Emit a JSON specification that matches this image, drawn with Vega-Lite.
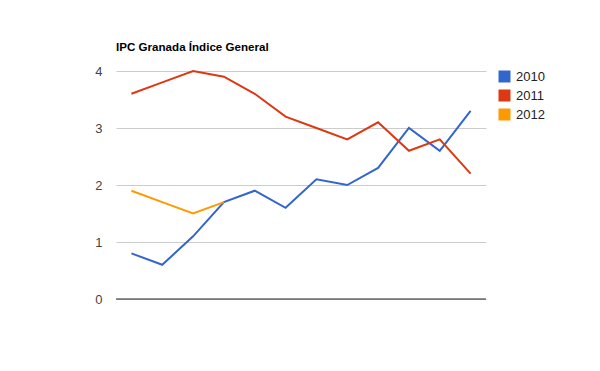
{
  "$schema": "https://vega.github.io/schema/vega-lite/v6.json",
  "width": 370,
  "height": 228,
  "autosize": "none",
  "padding": {"left": 116, "top": 71, "right": 114, "bottom": 72},
  "background": "white",
  "title": {
    "text": "IPC Granada Índice General",
    "anchor": "start",
    "frame": "group",
    "font": "Liberation Sans",
    "fontSize": 11.6,
    "fontWeight": "bold",
    "color": "#000000",
    "baseline": "alphabetic",
    "offset": 2
  },
  "config": {
    "view": {"stroke": null},
    "font": "Liberation Sans"
  },
  "data": {
    "values": [
      {"month": 1, "year": "2010", "value": 0.8},
      {"month": 2, "year": "2010", "value": 0.6},
      {"month": 3, "year": "2010", "value": 1.1},
      {"month": 4, "year": "2010", "value": 1.7},
      {"month": 5, "year": "2010", "value": 1.9},
      {"month": 6, "year": "2010", "value": 1.6},
      {"month": 7, "year": "2010", "value": 2.1},
      {"month": 8, "year": "2010", "value": 2.0},
      {"month": 9, "year": "2010", "value": 2.3},
      {"month": 10, "year": "2010", "value": 3.0},
      {"month": 11, "year": "2010", "value": 2.6},
      {"month": 12, "year": "2010", "value": 3.3},
      {"month": 1, "year": "2011", "value": 3.6},
      {"month": 2, "year": "2011", "value": 3.8},
      {"month": 3, "year": "2011", "value": 4.0},
      {"month": 4, "year": "2011", "value": 3.9},
      {"month": 5, "year": "2011", "value": 3.6},
      {"month": 6, "year": "2011", "value": 3.2},
      {"month": 7, "year": "2011", "value": 3.0},
      {"month": 8, "year": "2011", "value": 2.8},
      {"month": 9, "year": "2011", "value": 3.1},
      {"month": 10, "year": "2011", "value": 2.6},
      {"month": 11, "year": "2011", "value": 2.8},
      {"month": 12, "year": "2011", "value": 2.2},
      {"month": 1, "year": "2012", "value": 1.9},
      {"month": 2, "year": "2012", "value": 1.7},
      {"month": 3, "year": "2012", "value": 1.5},
      {"month": 4, "year": "2012", "value": 1.7}
    ]
  },
  "layer": [
    {
      "mark": {"type": "line", "strokeWidth": 2},
      "encoding": {
        "x": {
          "field": "month",
          "type": "ordinal",
          "scale": {"type": "point", "padding": 0.5, "domain": [1,2,3,4,5,6,7,8,9,10,11,12]},
          "axis": null
        },
        "y": {
          "field": "value",
          "type": "quantitative",
          "scale": {"domain": [0, 4], "nice": false},
          "axis": {
            "title": null,
            "values": [0, 1, 2, 3, 4],
            "format": "d",
            "domain": false,
            "ticks": false,
            "grid": true,
            "gridColor": "#cccccc",
            "gridWidth": 1,
            "labelColor": "#444444",
            "labelFont": "Liberation Sans",
            "labelFontSize": 13,
            "labelPadding": 14
          }
        },
        "color": {
          "field": "year",
          "type": "nominal",
          "scale": {"domain": ["2010", "2011", "2012"], "range": ["#3366cc", "#dc3912", "#ff9900"]},
          "legend": {
            "title": null,
            "orient": "none",
            "legendX": 382,
            "legendY": -1,
            "padding": 0,
            "symbolType": "square",
            "symbolSize": 144,
            "symbolStrokeWidth": 0,
            "symbolOpacity": 1,
            "labelFont": "Liberation Sans",
            "labelFontSize": 13,
            "labelColor": "#222222",
            "labelOffset": 5,
            "rowPadding": 5,
            "encode": {
              "symbols": {
                "update": {
                  "fill": {"scale": "color", "field": "value"},
                  "stroke": {"value": "transparent"},
                  "strokeWidth": {"value": 0}
                }
              }
            }
          }
        }
      }
    },
    {
      "data": {"values": [{"v": 0}]},
      "mark": {"type": "rule", "color": "#222222", "strokeWidth": 1},
      "encoding": {
        "y": {"field": "v", "type": "quantitative"}
      }
    }
  ]
}
